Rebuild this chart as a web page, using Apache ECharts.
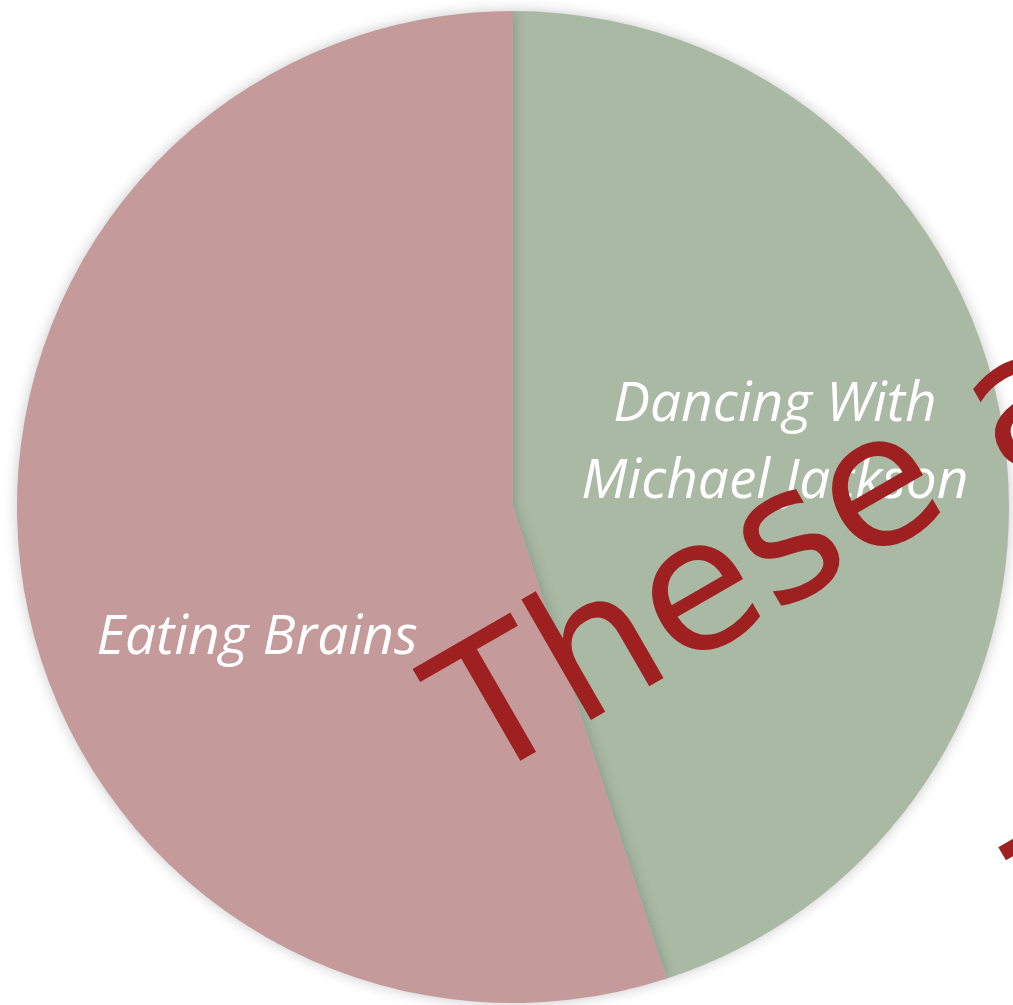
<!DOCTYPE html>
<html>
<head>
<meta charset="utf-8">
<style>
  html, body { margin: 0; padding: 0; background: #ffffff; }
  #chart { width: 1013px; height: 1005px; }
</style>
<script src="https://cdn.jsdelivr.net/npm/echarts@6/dist/echarts.min.js"></script>
</head>
<body>
<div id="chart"></div>
<script>
// Slices of the pie, in clockwise order from 12 o'clock
const categories = ['Dancing With\nMichael Jackson', 'Eating Brains'];
const shares = [45, 55];
const sliceColors = ['#a9b9a4', '#c49a9a'];
// Label nudges (px) from the default inside position
const labelOffsets = [[14, -24], [-8, 92]];

// Diagonal overprinted caption
const captionLines = ['These are', 'The same'];

const chart = echarts.init(document.getElementById('chart'), null, { renderer: 'canvas' });

const angle = Math.PI / 6;
const captionFont = 'normal 183px "DejaVu Sans", sans-serif';

chart.setOption({
  backgroundColor: '#ffffff',
  animation: false,
  series: [{
    type: 'pie',
    center: [513, 507],
    radius: [0, 496],
    startAngle: 90,
    clockwise: true,
    silent: true,
    itemStyle: {
      borderWidth: 0,
      shadowBlur: 14,
      shadowColor: 'rgba(0,0,0,0.22)'
    },
    label: {
      show: true,
      position: 'inside',
      color: '#ffffff',
      fontFamily: '"Open Sans", Lato, sans-serif',
      fontStyle: 'italic',
      fontSize: 55,
      lineHeight: 77
    },
    labelLine: { show: false },
    data: categories.map((name, i) => ({
      name: name,
      value: shares[i],
      itemStyle: { color: sliceColors[i] },
      label: { formatter: name, offset: labelOffsets[i] }
    }))
  }],
  graphic: [
    {
      type: 'text',
      x: 456, y: 743,
      rotation: angle,
      z: 100,
      style: {
        text: captionLines[0],
        fill: '#9e2020',
        font: captionFont,
        textAlign: 'left',
        textVerticalAlign: 'middle'
      }
    },
    {
      type: 'text',
      x: 996, y: 842,
      rotation: angle,
      z: 100,
      style: {
        text: captionLines[1],
        fill: '#9e2020',
        font: captionFont,
        textAlign: 'left',
        textVerticalAlign: 'top'
      }
    }
  ]
});
</script>
</body>
</html>
